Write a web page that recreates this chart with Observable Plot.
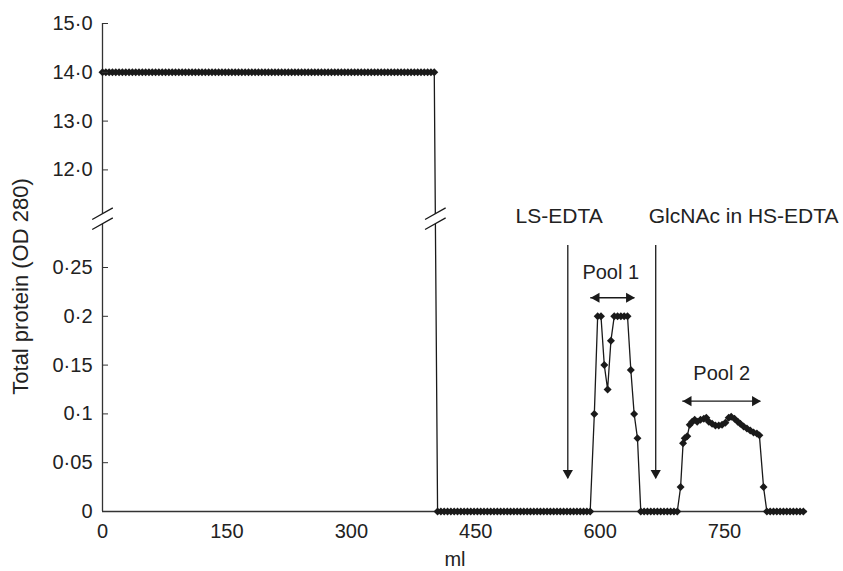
<!DOCTYPE html>
<html><head><meta charset="utf-8">
<script src="https://cdn.jsdelivr.net/npm/d3@7"></script>
<script src="https://cdn.jsdelivr.net/npm/@observablehq/plot@0.6"></script>
<style>html,body{margin:0;padding:0;background:#fff;}</style>
</head><body><div id="chart"></div>
<script>
// ---- data (volume in ml, total protein OD 280) ----
const flowThroughMl = [
  0,4,8,12,16,20,24,28,32,36,40,44,48,52,56,60,64,68,72,76,80,84,88,92,96,
  100,104,108,112,116,120,124,128,132,136,140,144,148,152,156,160,164,168,172,176,180,184,188,192,196,
  200,204,208,212,216,220,224,228,232,236,240,244,248,252,256,260,264,268,272,276,280,284,288,292,296,
  300,304,308,312,316,320,324,328,332,336,340,344,348,352,356,360,364,368,372,376,380,384,388,392,396,
  400];
const flowThroughOD = [
  14,14,14,14,14,14,14,14,14,14,14,14,14,14,14,14,14,14,14,14,14,14,14,14,14,
  14,14,14,14,14,14,14,14,14,14,14,14,14,14,14,14,14,14,14,14,14,14,14,14,14,
  14,14,14,14,14,14,14,14,14,14,14,14,14,14,14,14,14,14,14,14,14,14,14,14,14,
  14,14,14,14,14,14,14,14,14,14,14,14,14,14,14,14,14,14,14,14,14,14,14,14,14,
  14];
const washMl = [
  404,408,412,416,420,424,428,432,436,440,444,448,452,456,460,464,468,472,476,480,484,488,492,496,
  500,504,508,512,516,520,524,528,532,536,540,544,548,552,556,560,564,568,572,576,580,584,588];
const washOD = [
  0,0,0,0,0,0,0,0,0,0,0,0,0,0,0,0,0,0,0,0,0,0,0,0,
  0,0,0,0,0,0,0,0,0,0,0,0,0,0,0,0,0,0,0,0,0,0,0];
const pool1Ml = [593,597,601,605,609,613,617,621,625,629,633,637,641,645];
const pool1OD = [0.1,0.2,0.2,0.15,0.125,0.175,0.2,0.2,0.2,0.2,0.2,0.145,0.1,0.075];
const wash2Ml = [649,653,657,661,665,669,673,677,681,685,689,693];
const wash2OD = [0,0,0,0,0,0,0,0,0,0,0,0];
const pool2Ml = [697,700,702,705,708,711,714,717,721,725,728,731,735,739,743,747,751,755,758,762,766,769,773,777,781,785,789,792,797];
const pool2OD = [0.025,0.07,0.075,0.077,0.089,0.092,0.094,0.092,0.094,0.095,0.096,0.092,0.09,0.088,0.088,0.089,0.091,0.096,0.097,0.095,0.092,0.09,0.087,0.085,0.083,0.081,0.08,0.078,0.025];
const tailMl = [801,805,809,813,817,821,825,829,833,837,841,845];
const tailOD = [0,0,0,0,0,0,0,0,0,0,0,0];

const xTicks = [0,150,300,450,600,750];
const yTickValues = [0,0.05,0.1,0.15,0.2,0.25,12,13,14,15];
const yTickLabels = ["0","0·05","0·1","0·15","0·2","0·25","12·0","13·0","14·0","15·0"];
const xLabel = "ml";
const yLabel = "Total protein (OD 280)";

// annotations
const eluentLabels = ["LS-EDTA", "GlcNAc in HS-EDTA"];
const eluentLabelMl = [498, 658.6];
const eluentLabelOD = [0.302, 0.302];
const eluentArrowMl = [561, 667];
const eluentArrowTopOD = [0.2725, 0.2725];
const eluentArrowTipOD = [0.0335, 0.0335];
const poolLabels = ["Pool 1", "Pool 2"];
const poolLabelMl = [612.8, 746.5];
const poolLabelOD = [0.245, 0.141];
const poolStartMl = [588.7, 699.6];
const poolEndMl = [641.8, 793.7];
const poolArrowOD = [0.219, 0.113];
const breakMl = [0, 401.3];
const breakOD = 0.3;

// ---- build ----
const ink = "#1a1a1a";
const axisInk = "#333";
// broken axis: 0–0.3 (lower) and 11–15 (upper)
const yb = v => v < 5 ? v / 0.05 : 6 + (v - 11);

const mlAll = [].concat(flowThroughMl, washMl, pool1Ml, wash2Ml, pool2Ml, tailMl);
const odAll = [].concat(flowThroughOD, washOD, pool1OD, wash2OD, pool2OD, tailOD);
const data = mlAll.map((ml, i) => ({ml, od: odAll[i]}));
const tickMap = new Map(yTickValues.map((v, i) => [yb(v), yTickLabels[i]]));

const eluents = eluentLabels.map((label, i) => ({label, lx: eluentLabelMl[i], ly: eluentLabelOD[i],
  ax: eluentArrowMl[i], top: eluentArrowTopOD[i], tip: eluentArrowTipOD[i]}));
const pools = poolLabels.map((label, i) => ({label, lx: poolLabelMl[i], ly: poolLabelOD[i],
  x1: poolStartMl[i], x2: poolEndMl[i], y: poolArrowOD[i]}));

const breakFill = {draw(ctx) {
  ctx.moveTo(-10.3, 0.85); ctx.lineTo(10.3, -10.85); ctx.lineTo(10.3, -0.85); ctx.lineTo(-10.3, 10.85); ctx.closePath();
}};
const breakStroke = {draw(ctx) {
  ctx.moveTo(-10.3, 0.85); ctx.lineTo(10.3, -10.85);
  ctx.moveTo(-10.3, 10.85); ctx.lineTo(10.3, -0.85);
}};

const font = "'Liberation Sans', Arial, Helvetica, sans-serif";

const chart = Plot.plot({
  width: 843, height: 571,
  marginLeft: 102, marginRight: 36, marginTop: 23, marginBottom: 60,
  x: {domain: [0, 850]},
  y: {domain: [0, 10]},
  style: {fontFamily: font, fontSize: "20px", color: "#222", background: "white"},
  marks: [
    Plot.ruleY([0], {stroke: axisInk, strokeWidth: 1.3}),
    Plot.ruleX([0], {stroke: axisInk, strokeWidth: 1.3}),
    Plot.line(data, {x: "ml", y: d => yb(d.od), stroke: ink, strokeWidth: 1.3}),
    Plot.dot(data, {x: "ml", y: d => yb(d.od), symbol: "diamond2", r: 3.6, fill: ink, stroke: "none"}),
    // axis breaks
    Plot.dot(breakMl, {x: d => d, y: () => yb(breakOD), symbol: breakFill, fill: "white", stroke: "none"}),
    Plot.dot(breakMl, {x: d => d, y: () => yb(breakOD), symbol: breakStroke, fill: "none", stroke: ink, strokeWidth: 1.3}),
    // eluent arrows
    Plot.ruleX(eluents, {x: "ax", y1: d => yb(d.top), y2: d => yb(d.tip), stroke: ink, strokeWidth: 1.3}),
    Plot.dot(eluents, {x: "ax", y: d => yb(d.tip), symbol: "triangle", r: 3.8, rotate: 180, dy: -5.8, fill: ink, stroke: "none"}),
    Plot.text(eluents, {x: "lx", y: d => yb(d.ly), text: "label", textAnchor: "start", fontSize: 21, fill: "#222"}),
    // pool arrows
    Plot.ruleY(pools, {y: d => yb(d.y), x1: "x1", x2: "x2", stroke: ink, strokeWidth: 1.3}),
    Plot.dot(pools, {x: "x1", y: d => yb(d.y), symbol: "triangle", r: 3.8, rotate: -90, dx: 5.8, fill: ink, stroke: "none"}),
    Plot.dot(pools, {x: "x2", y: d => yb(d.y), symbol: "triangle", r: 3.8, rotate: 90, dx: -5.8, fill: ink, stroke: "none"}),
    Plot.text(pools, {x: "lx", y: d => yb(d.ly), text: "label", fontSize: 20, fill: "#222"}),
    // axes
    Plot.axisX({ticks: xTicks, tickSize: 0, tickPadding: 12, fontSize: 20, label: null}),
    Plot.axisY({ticks: yTickValues.map(yb), tickFormat: d => tickMap.get(d), tickSize: -6, tickPadding: 16, fontSize: 20, label: null, stroke: axisInk}),
    Plot.text([yLabel], {frameAnchor: "left", textAnchor: "middle", rotate: -90, dx: -82, dy: 19, fontSize: 22, fill: "#222"}),
    Plot.text([xLabel], {frameAnchor: "bottom", lineAnchor: "top", dy: 40, fontSize: 20, fill: "#222"})
  ]
});
document.getElementById("chart").appendChild(chart);
</script>
</body></html>
